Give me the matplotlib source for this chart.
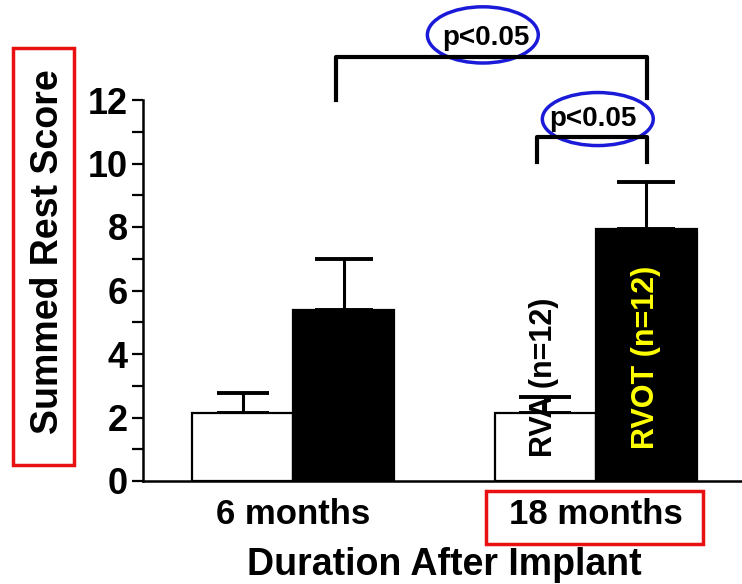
import matplotlib.pyplot as plt
from matplotlib.patches import Ellipse, Rectangle

# data
groups = ["6 months", "18 months"]
group_pos = [0, 3]
rva_mean = [2.15, 2.15]
rva_err = [0.62, 0.50]
rvot_mean = [5.40, 7.95]
rvot_err = [1.58, 1.46]

plt.rcParams["font.family"] = ["Liberation Sans", "DejaVu Sans"]
plt.rcParams["font.weight"] = "bold"

W, H = 742, 584


def fx(px):
    return px / W


def fy(py):
    return 1 - py / H


def plot_chart():
    fig = plt.figure(figsize=(W / 100, H / 100), dpi=100)
    ax = fig.add_axes([fx(143), fy(481), 1 - fx(143), fy(100) - fy(481)])

    x_rva = [g - 0.5 for g in group_pos]
    x_rvot = [g + 0.5 for g in group_pos]

    ax.bar(x_rva, rva_mean, width=1.0, color="white", edgecolor="black", linewidth=1.6, zorder=2)
    ax.bar(x_rvot, rvot_mean, width=1.0, color="black", edgecolor="black", linewidth=1.6, zorder=2)
    ax.errorbar(x_rva, rva_mean, yerr=[[0, 0], rva_err], fmt="none", ecolor="black",
                elinewidth=2.2, capsize=19, capthick=2.8, zorder=1)
    ax.errorbar(x_rvot, rvot_mean, yerr=[[0, 0], rvot_err], fmt="none", ecolor="black",
                elinewidth=2.2, capsize=21, capthick=2.8, zorder=1)

    ax.set_xlim(-1.49, 4.45)
    ax.set_ylim(0, 12)
    ax.set_yticks(range(0, 13, 2))
    ax.set_yticks(range(1, 13, 2), minor=True)
    ax.set_xticks(group_pos)
    ax.set_xticklabels(groups, fontsize=25, fontweight="bold")
    ax.tick_params(axis="x", length=0, pad=12)
    ax.tick_params(axis="y", which="both", direction="out", length=8, width=1.6, labelsize=26, pad=3)
    for lab in ax.get_yticklabels():
        lab.set_fontweight("bold")

    for s in ["top", "right"]:
        ax.spines[s].set_visible(False)
    ax.spines["left"].set_linewidth(1.8)
    ax.spines["bottom"].set_linewidth(1.8)

    # significance brackets
    ax.plot([0.42, 0.42, 3.51, 3.51], [12.0, 13.35, 13.35, 12.05], color="black", lw=3, clip_on=False)
    ax.plot([2.42, 2.42, 3.51, 3.51], [10.05, 10.83, 10.83, 10.05], color="black", lw=3, clip_on=False)
    ax.text(1.91, 13.96, "p<0.05", fontsize=20, fontweight="bold", ha="center", va="center")
    ax.text(2.97, 11.40, "p<0.05", fontsize=20, fontweight="bold", ha="center", va="center")
    ax.add_patch(Ellipse((1.88, 14.05), 1.10, 1.77, fill=False, edgecolor="#1a1ad8", lw=2.5, clip_on=False))
    ax.add_patch(Ellipse((3.02, 11.40), 1.10, 1.67, fill=False, edgecolor="#1a1ad8", lw=2.5, clip_on=False))

    # rotated group labels on the bars
    ax.text(2.49, 3.28, "RVA (n=12)", rotation=90, fontsize=22, fontweight="bold",
            color="black", ha="center", va="center", zorder=3)
    ax.text(3.5, 3.88, "RVOT (n=12)", rotation=90, fontsize=22, fontweight="bold",
            color="#ffff00", ha="center", va="center", zorder=3)

    # axis titles
    fig.text(fx(48), fy(252), "Summed Rest Score", rotation=90, fontsize=27, fontweight="bold",
             ha="center", va="center")
    fig.text(fx(444), fy(565), "Duration After Implant", fontsize=27, fontweight="bold",
             ha="center", va="center")

    # red highlight boxes
    fig.add_artist(Rectangle((fx(13), fy(465)), fx(74) - fx(13), fy(48) - fy(465),
                             transform=fig.transFigure, fill=False, edgecolor="#e81010", lw=2.5))
    fig.add_artist(Rectangle((fx(486), fy(544)), fx(703) - fx(486), fy(491) - fy(544),
                             transform=fig.transFigure, fill=False, edgecolor="#e81010", lw=2.5))

    fig.savefig("out.png", dpi=100)


if __name__ == "__main__":
    plot_chart()
